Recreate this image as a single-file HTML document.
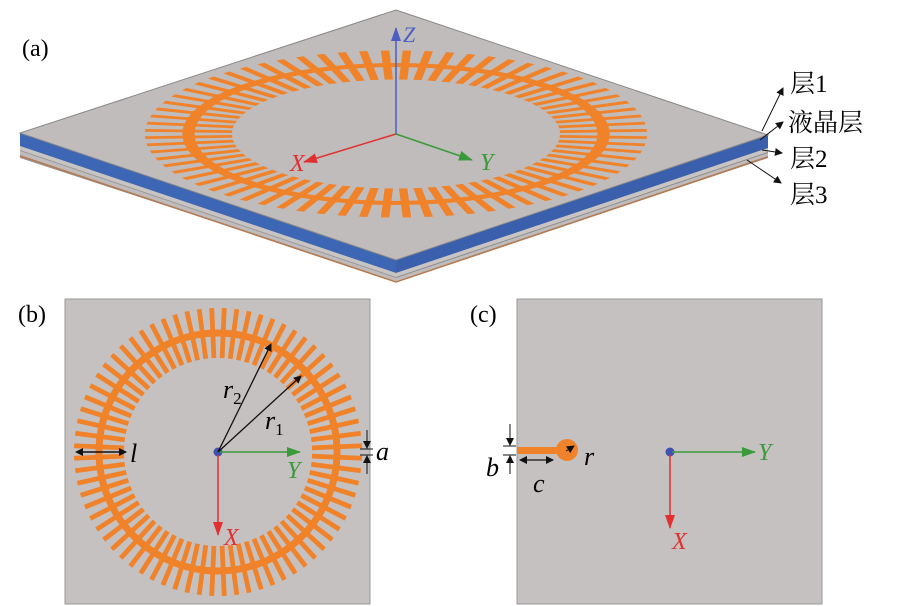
<!DOCTYPE html>
<html><head><meta charset="utf-8">
<style>
html,body{margin:0;padding:0;background:#fff;}
svg{display:block;}
text{font-family:"Liberation Serif","Noto Serif CJK SC",serif;}
</style></head>
<body>
<svg id="s" width="900" height="606" viewBox="0 0 900 606" xmlns="http://www.w3.org/2000/svg">
<defs>
<marker id="ak" markerWidth="8" markerHeight="8" refX="7" refY="4" orient="auto" markerUnits="userSpaceOnUse"><path d="M0,0L8,4L0,8z" fill="#111"/></marker>
<marker id="ag" markerWidth="14" markerHeight="10" refX="13" refY="5" orient="auto" markerUnits="userSpaceOnUse"><path d="M0,0L14,5L0,10z" fill="#3a9a3a"/></marker>
<marker id="ar2" markerWidth="14" markerHeight="10" refX="13" refY="5" orient="auto" markerUnits="userSpaceOnUse"><path d="M0,0L14,5L0,10z" fill="#e03030"/></marker>
<marker id="ab" markerWidth="14" markerHeight="10" refX="13" refY="5" orient="auto" markerUnits="userSpaceOnUse"><path d="M0,0L14,5L0,10z" fill="#4a5fc0"/></marker>
<g id="ring">
  <circle cx="218" cy="452" r="119" fill="none" stroke="#f0822a" stroke-width="7"/>
  <g id="spokes"></g>
</g>
</defs>

<!-- panel a slab -->
<polygon points="20,133 396,260 396,281 20,158" fill="#9a9898"/>
<polygon points="396,260 768,135 768,158 396,281" fill="#8c8a8a"/>
<polygon points="20,133 396,260 396,273 20,146" fill="#3d66b4"/>
<polygon points="396,260 768,135 768,148 396,273" fill="#3a60ad"/>
<polygon points="20,146 396,273 396,277 20,150" fill="#c8c4c4"/>
<polygon points="396,273 768,148 768,152 396,277" fill="#c8c4c4"/>
<polygon points="20,151 396,278 396,281 20,155" fill="#c0bcbc"/>
<polygon points="396,278 768,153 768,156 396,281" fill="#c0bcbc"/>
<polyline points="20,156 396,282 768,157" fill="none" stroke="#b87a50" stroke-width="1.5"/>
<polygon points="396,10 768,135 396,260 20,133" fill="#c0bcbb" stroke="#888" stroke-width="1"/>
<g transform="translate(396,134) scale(1.744,0.58) rotate(45) translate(-218,-452)">
  <use href="#ring"/>
</g>
<line x1="396" y1="134" x2="396" y2="28" stroke="#4a5fc0" stroke-width="1.5" marker-end="url(#ab)"/>
<line x1="396" y1="134" x2="304" y2="162" stroke="#e03030" stroke-width="1.5" marker-end="url(#ar2)"/>
<line x1="396" y1="134" x2="472" y2="160" stroke="#3a9a3a" stroke-width="1.5" marker-end="url(#ag)"/>
<text x="403" y="42" font-size="22" font-style="italic" fill="#4a5fc0">Z</text>
<text x="290" y="171" font-size="24" font-style="italic" fill="#e03030">X</text>
<text x="480" y="170" font-size="24" font-style="italic" fill="#3a9a3a">Y</text>
<text x="22" y="56" font-size="24">(a)</text>

<line x1="762" y1="131" x2="783" y2="88" stroke="#111" stroke-width="1" marker-end="url(#ak)"/>
<line x1="760" y1="140" x2="783" y2="122" stroke="#111" stroke-width="1" marker-end="url(#ak)"/>
<line x1="762" y1="150" x2="782" y2="153" stroke="#111" stroke-width="1" marker-end="url(#ak)"/>
<line x1="747" y1="160" x2="781" y2="183" stroke="#111" stroke-width="1" marker-end="url(#ak)"/>
<text x="790" y="92" font-size="25">层1</text>
<text x="788" y="131" font-size="25">液晶层</text>
<text x="790" y="167" font-size="25">层2</text>
<text x="790" y="203" font-size="25">层3</text>

<!-- panel b -->
<rect x="65" y="299" width="305" height="305" fill="#c5c1c0" stroke="#999" stroke-width="1"/>
<use href="#ring"/>
<circle cx="218" cy="452" r="4.5" fill="#4050b0"/>
<line x1="218" y1="452" x2="271" y2="344" stroke="#111" stroke-width="1.3" marker-end="url(#ak)"/>
<line x1="218" y1="452" x2="301" y2="376" stroke="#111" stroke-width="1.3" marker-end="url(#ak)"/>
<line x1="220" y1="452" x2="300" y2="452" stroke="#3a9a3a" stroke-width="1.5" marker-end="url(#ag)"/>
<line x1="218" y1="455" x2="218" y2="535" stroke="#e03030" stroke-width="1.5" marker-end="url(#ar2)"/>
<line x1="77" y1="452" x2="126" y2="452" stroke="#111" stroke-width="1.5" marker-end="url(#ak)"/>
<path d="M75,452l8,-4v8z" fill="#111"/>
<text x="223" y="398" font-size="26" font-style="italic">r<tspan font-size="17" font-style="normal" dy="6">2</tspan></text>
<text x="265" y="429" font-size="26" font-style="italic">r<tspan font-size="17" font-style="normal" dy="6">1</tspan></text>
<text x="130" y="462" font-size="26" font-style="italic">l</text>
<text x="287" y="478" font-size="24" font-style="italic" fill="#3a9a3a">Y</text>
<text x="224" y="545" font-size="24" font-style="italic" fill="#e03030">X</text>
<line x1="360" y1="449" x2="373" y2="449" stroke="#111" stroke-width="1"/>
<line x1="360" y1="455" x2="373" y2="455" stroke="#111" stroke-width="1"/>
<line x1="367" y1="430" x2="367" y2="448" stroke="#111" stroke-width="1" marker-end="url(#ak)"/>
<line x1="367" y1="474" x2="367" y2="456" stroke="#111" stroke-width="1" marker-end="url(#ak)"/>
<text x="376" y="460" font-size="26" font-style="italic">a</text>
<text x="18" y="322" font-size="24">(b)</text>

<!-- panel c -->
<rect x="517" y="299" width="305" height="305" fill="#c5c1c0" stroke="#999" stroke-width="1"/>
<rect x="517" y="447" width="46" height="7" fill="#f0822a"/>
<circle cx="567" cy="450" r="11" fill="#f0822a"/>
<line x1="566" y1="451" x2="574" y2="446" stroke="#111" stroke-width="1" marker-end="url(#ak)"/>
<line x1="503" y1="446" x2="516" y2="446" stroke="#111" stroke-width="1"/>
<line x1="503" y1="455" x2="516" y2="455" stroke="#111" stroke-width="1"/>
<line x1="510" y1="424" x2="510" y2="445" stroke="#111" stroke-width="1" marker-end="url(#ak)"/>
<line x1="510" y1="474" x2="510" y2="456" stroke="#111" stroke-width="1" marker-end="url(#ak)"/>
<line x1="520" y1="460" x2="553" y2="460" stroke="#111" stroke-width="1.3" marker-end="url(#ak)"/>
<path d="M519,460l8,-4v8z" fill="#111"/>
<text x="486" y="476" font-size="26" font-style="italic">b</text>
<text x="533" y="492" font-size="26" font-style="italic">c</text>
<text x="584" y="465" font-size="26" font-style="italic">r</text>
<circle cx="670" cy="452" r="4.5" fill="#4050b0"/>
<line x1="672" y1="452" x2="755" y2="452" stroke="#3a9a3a" stroke-width="1.5" marker-end="url(#ag)"/>
<line x1="670" y1="455" x2="670" y2="528" stroke="#e03030" stroke-width="1.5" marker-end="url(#ar2)"/>
<text x="758" y="460" font-size="24" font-style="italic" fill="#3a9a3a">Y</text>
<text x="672" y="549" font-size="24" font-style="italic" fill="#e03030">X</text>
<text x="470" y="322" font-size="24">(c)</text>
</svg>
<script>
(function(){
 var g=document.getElementById('spokes'),N=72,s='';
 for(var i=0;i<N;i++){
  var a=360*i/N+2.5;
  s+='<rect x="'+(218+94)+'" y="'+(452-2.4)+'" width="50" height="4.8" fill="#f0822a" transform="rotate('+a+' 218 452)"/>';
 }
 g.innerHTML=s;
})();
</script>
</body></html>
